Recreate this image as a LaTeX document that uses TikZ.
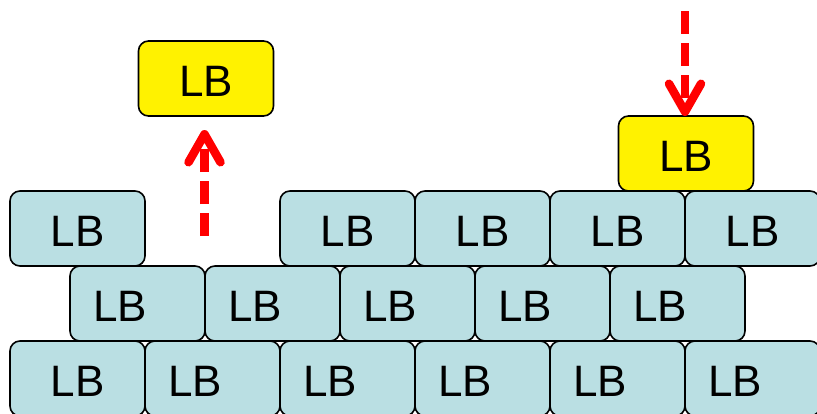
\documentclass[tikz,border=0pt]{standalone}
\usepackage{fontspec}
\setmainfont{Liberation Sans}
\usetikzlibrary{arrows.meta}
\definecolor{brickblue}{RGB}{186,223,227}
\definecolor{arrred}{RGB}{255,0,0}
\tikzset{
  brick/.style={draw=black, line width=1.6pt, fill=brickblue, rounded corners=10pt,
    minimum width=135pt, minimum height=75pt, inner sep=0pt, outer sep=0pt},
  ybrick/.style={brick, fill=yellow},
  lbfont/.style={font=\fontsize{44}{50}\selectfont, inner sep=0pt},
  lb/.style={label={[lbfont, yshift=-2.5pt]center:LB}},
  lbl/.style={label={[lbfont, xshift=-17.5pt, yshift=-2.5pt]center:LB}},
  redarrow/.style={draw=arrred, line width=8.5pt, dash pattern=on 23pt off 9pt,
    -{Straight Barb[length=28pt, width=32pt, line cap=round, line join=round]}}
}
\begin{document}
\begin{tikzpicture}[x=1pt, y=-1pt]
\useasboundingbox (0,0) rectangle (817,413);
\clip (0,0) rectangle (817,413);
% row 3 (bottom)
\node[brick, lb]  (c1) at (77.5,378.5) {};
\node[brick, lbl] (c2) at (212.5,378.5) {};
\node[brick, lbl] (c3) at (347.5,378.5) {};
\node[brick, lbl] (c4) at (482.5,378.5) {};
\node[brick, lbl] (c5) at (617.5,378.5) {};
\node[brick, lbl] (c6) at (752.5,378.5) {};
% row 2
\node[brick, lbl] (b1) at (137.5,303.5) {};
\node[brick, lbl] (b2) at (272.5,303.5) {};
\node[brick, lbl] (b3) at (407.5,303.5) {};
\node[brick, lbl] (b4) at (542.5,303.5) {};
\node[brick, lbl] (b5) at (677.5,303.5) {};
% row 1
\node[brick, lb] (a1) at (77.5,228.5) {};
\node[brick, lb] (a2) at (347.5,228.5) {};
\node[brick, lb] (a3) at (482.5,228.5) {};
\node[brick, lb] (a4) at (617.5,228.5) {};
\node[brick, lb] (a5) at (752.5,228.5) {};
% yellow bricks
\node[ybrick, lb] (yl) at (206,78.5) {};
\node[ybrick, lb] (yr) at (686,153.5) {};
% arrows
\coordinate (la) at (204.5,236);
\coordinate (ra) at (685,11);
\draw[redarrow, shorten >=14pt] (la) -- (la |- yl.south);
\draw[redarrow] (ra) -- (ra |- yr.north);
\end{tikzpicture}
\end{document}
